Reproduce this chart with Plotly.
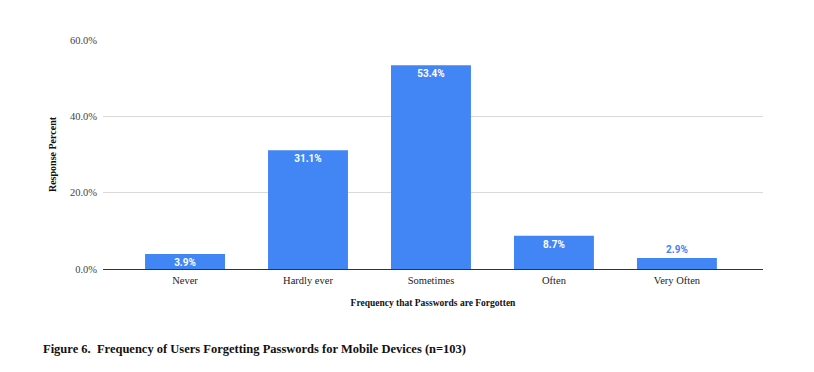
import plotly.graph_objects as go

categories = ["Never", "Hardly ever", "Sometimes", "Often", "Very Often"]
values = [3.9, 31.1, 53.4, 8.7, 2.9]
y_ticks = [0, 20, 40, 60]
y_tick_labels = ["0.0%", "20.0%", "40.0%", "60.0%"]

fig = go.Figure()
fig.add_trace(go.Bar(
    x=categories, y=values, width=0.65,
    marker=dict(color="#4285f4", line=dict(width=0)),
    text=[f"{v:.1f}%" for v in values],
    texttemplate="<b>%{text}</b>",
    textposition=["inside" if v >= 3.5 else "outside" for v in values],
    insidetextanchor="end",
    constraintext="none",
    textangle=0,
    textfont=dict(family="Roboto, Arial, sans-serif", size=10,
                  color=["white" if v >= 3.5 else "#4285f4" for v in values]),
    cliponaxis=False,
))
fig.update_layout(
    width=814, height=372,
    margin=dict(l=95, r=59, t=32, b=111),
    paper_bgcolor="white", plot_bgcolor="white",
    showlegend=False,
    font=dict(family="Liberation Serif, serif", color="#222"),
    xaxis=dict(type="category", range=[-0.667, 4.70], showgrid=False,
               tickfont=dict(size=10.5, color="#222"), ticks="",
               ticklabelstandoff=3,
               title=dict(text="<b>Frequency that Passwords are Forgotten</b>",
                          font=dict(size=9.5, color="#111"), standoff=14)),
    yaxis=dict(range=[0, 60], tickvals=y_ticks, ticktext=y_tick_labels,
               showgrid=True, gridcolor="#d9d9d9", gridwidth=1,
               zeroline=True, zerolinecolor="#333", zerolinewidth=1,
               tickfont=dict(size=10.5, color="#444"), ticks="",
               ticklabelstandoff=5,
               title=dict(text="<b>Response Percent</b>",
                          font=dict(size=10, color="#111"), standoff=11)),
    uniformtext=dict(mode=False),
)
fig.add_annotation(
    text="<b>Figure 6.  Frequency of Users Forgetting Passwords for Mobile Devices (n=103)</b>",
    xref="paper", yref="paper", x=-0.094, y=-0.31, xanchor="left", yanchor="top",
    showarrow=False,
    font=dict(family="Liberation Serif, serif", size=12.5, color="#111"),
)
fig.write_html("out.html")
